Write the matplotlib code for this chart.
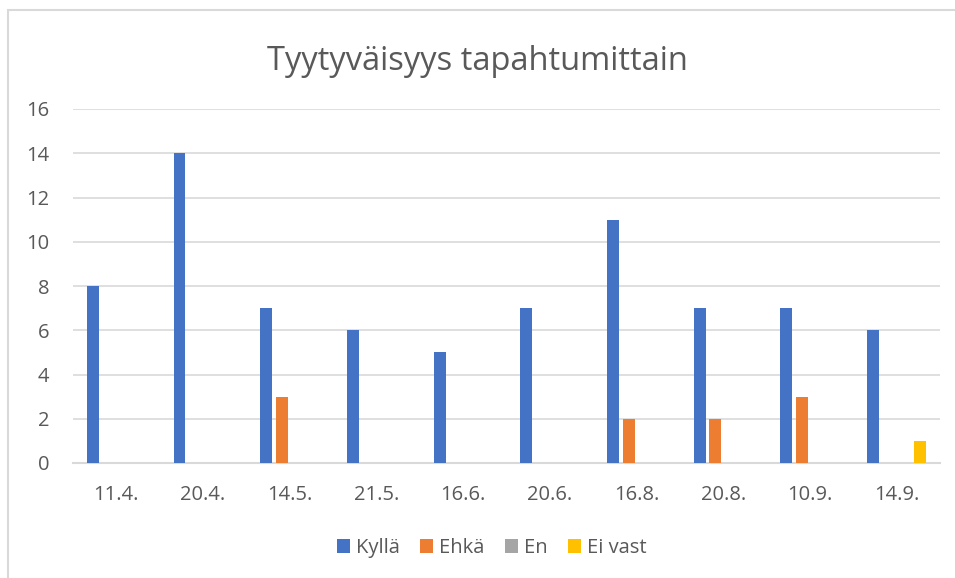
import matplotlib.pyplot as plt
import numpy as np

# data
dates   = ['11.4.', '20.4.', '14.5.', '21.5.', '16.6.', '20.6.', '16.8.', '20.8.', '10.9.', '14.9.']
kylla   = [8, 14, 7, 6, 5, 7, 11, 7, 7, 6]
ehka    = [0, 0, 3, 0, 0, 0, 2, 2, 3, 0]
en      = [0, 0, 0, 0, 0, 0, 0, 0, 0, 0]
ei_vast = [0, 0, 0, 0, 0, 0, 0, 0, 0, 1]

series_names  = ['Kyllä', 'Ehkä', 'En', 'Ei vast']
series_colors = ['#4472C4', '#ED7D31', '#A5A5A5', '#FFC000']

text_color = '#595959'
plt.rcParams['font.family'] = ['Open Sans', 'DejaVu Sans']

fig = plt.figure(figsize=(9.55, 5.78), dpi=100)
ax = fig.add_axes([73/955, 1 - 463/578, (940 - 73)/955, (463 - 109)/578])

# chart border (left and top visible in the reference)
fig.patches.append(plt.Rectangle((8/955, -0.1), 1.2, 1 - 10/578 + 0.1,
                                 transform=fig.transFigure, fill=False,
                                 edgecolor='#D9D9D9', linewidth=1.5))

x = np.arange(len(dates))
step = 0.181
width = 0.138
for i, (vals, name, color) in enumerate(zip([kylla, ehka, en, ei_vast], series_names, series_colors)):
    ax.bar(x + (i - 1.5) * step, vals, width, color=color, label=name, zorder=3)

ax.set_xlim(-0.5, len(dates) - 0.5)
ax.set_ylim(0, 16)
ax.set_yticks(range(0, 17, 2))
ax.set_xticks(x)
ax.set_xticklabels(dates)

ax.grid(axis='y', color='#D9D9D9', linewidth=1.2, zorder=0)
for side in ['top', 'right', 'left']:
    ax.spines[side].set_visible(False)
ax.spines['bottom'].set_color('#D9D9D9')
ax.spines['bottom'].set_linewidth(1.5)
ax.tick_params(axis='both', length=0, labelsize=14.5, colors=text_color)
ax.tick_params(axis='x', pad=16)
ax.tick_params(axis='y', pad=17)

fig.text(0.5, 1 - 62/578, 'Tyytyväisyys tapahtumittain', ha='center', va='center',
         fontsize=23.5, color=text_color)

fig.legend(loc='center', bbox_to_anchor=(0.515, 1 - 548/578), ncol=4, frameon=False,
           fontsize=14.5, labelcolor=text_color, handlelength=0.65, handleheight=0.65,
           handletextpad=0.3, columnspacing=1.0)

fig.savefig('out.png', dpi=100)
